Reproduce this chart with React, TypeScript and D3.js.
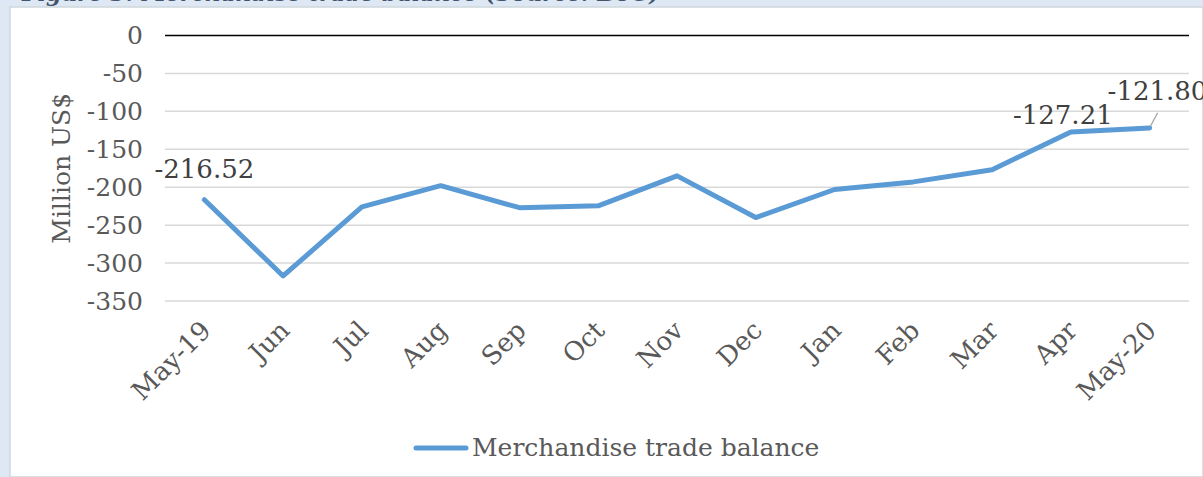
import React from "react";
import * as d3 from "d3";

const categories = ["May-19", "Jun", "Jul", "Aug", "Sep", "Oct", "Nov", "Dec", "Jan", "Feb", "Mar", "Apr", "May-20"];
const tradeBalance = [-216.52, -317, -226, -198, -227, -224.5, -185, -240, -203, -193, -177, -127.21, -121.8];
const yTicks = [0, -50, -100, -150, -200, -250, -300, -350];
const seriesName = "Merchandise trade balance";
const yTitle = "Million US$";
const chartTitle = "Figure 3: Merchandise trade balance (Source: BoG)";

const W = 1203;
const H = 477;
const FONT = "'DejaVu Serif', 'Liberation Serif', serif";

export default function App() {
  const plotLeft = 165;
  const plotRight = 1189;
  const x = d3.scaleBand<string>().domain(categories).range([plotLeft, plotRight]);
  const y = d3.scaleLinear().domain([-350, 0]).range([301, 35.5]);
  const cx = (c: string) => (x(c) as number) + x.bandwidth() / 2;

  const line = d3
    .line<number>()
    .x((_, i) => cx(categories[i]))
    .y((d) => y(d));

  const labelIdx = [0, 11, 12];
  const labelOffsets: Record<number, [number, number]> = {
    0: [0, -22],
    11: [-8, -8],
    12: [-42, -28],
  };

  return (
    <div style={{ position: "absolute", left: 0, top: 0 }}>
      <svg width={W} height={H} style={{ display: "block" }}>
        <rect x={0} y={0} width={W} height={H} fill="#dde8f4" />
        <text
          x={22}
          y={1}
          fontFamily={FONT}
          fontSize={22}
          fontWeight="bold"
          fontStyle="italic"
          fill="#44546a"
        >
          {chartTitle}
        </text>
        <rect x={10} y={7} width={W - 10} height={H - 7} fill="#ffffff" stroke="#d0d6dd" strokeWidth={1.5} />

        {yTicks.map((t) => (
          <g key={t}>
            <line
              x1={plotLeft}
              x2={plotRight}
              y1={y(t)}
              y2={y(t)}
              stroke={t === 0 ? "#000000" : "#d9d9d9"}
              strokeWidth={1.5}
            />
            <text
              x={143}
              y={y(t)}
              textAnchor="end"
              dominantBaseline="central"
              fontFamily={FONT}
              fontSize={25}
              fill="#595959"
            >
              {t === 0 ? "0" : `-${Math.abs(t)}`}
            </text>
          </g>
        ))}

        <text
          transform={`translate(70, ${(y(0) + y(-350)) / 2}) rotate(-90)`}
          textAnchor="middle"
          fontFamily={FONT}
          fontSize={25}
          fill="#595959"
        >
          {yTitle}
        </text>

        {categories.map((c) => (
          <text
            key={c}
            transform={`translate(${cx(c) + 8}, 332) rotate(-45)`}
            textAnchor="end"
            fontFamily={FONT}
            fontSize={26}
            fill="#595959"
          >
            {c}
          </text>
        ))}

        <path
          d={line(tradeBalance) || ""}
          fill="none"
          stroke="#5b9bd5"
          strokeWidth={5}
          strokeLinejoin="round"
          strokeLinecap="round"
        />

        <line
          x1={cx(categories[12]) + 1}
          y1={y(tradeBalance[12]) - 2}
          x2={cx(categories[12]) + 8}
          y2={y(tradeBalance[12]) - 15}
          stroke="#a6a6a6"
          strokeWidth={1.2}
        />

        {labelIdx.map((i) => (
          <text
            key={i}
            x={cx(categories[i]) + labelOffsets[i][0]}
            y={y(tradeBalance[i]) + labelOffsets[i][1]}
            textAnchor={i === 12 ? "start" : "middle"}
            fontFamily={FONT}
            fontSize={26}
            fill="#404040"
          >
            {tradeBalance[i].toFixed(2)}
          </text>
        ))}

        <line x1={416} x2={466} y1={448} y2={448} stroke="#5b9bd5" strokeWidth={5} strokeLinecap="round" />
        <text x={472} y={456} fontFamily={FONT} fontSize={25} fill="#595959">
          {seriesName}
        </text>
      </svg>
    </div>
  );
}
